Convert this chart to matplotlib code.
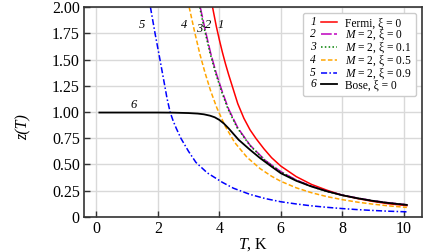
import numpy as np
import matplotlib
matplotlib.use('Agg')
import matplotlib.pyplot as plt
from matplotlib.legend_handler import HandlerLine2D
from matplotlib.text import Text

plt.rcParams['font.family'] = ['Liberation Serif', 'DejaVu Serif']
plt.rcParams['mathtext.fontset'] = 'custom'
plt.rcParams['mathtext.rm'] = 'Liberation Serif'
plt.rcParams['mathtext.it'] = 'Liberation Serif:italic'

# curve 1: Fermi, xi = 0
T1 = [3.78, 3.9, 4.0, 4.1, 4.2, 4.3, 4.45, 4.6, 4.8, 5.0, 5.2, 5.45, 5.7, 6.0, 6.5, 7.0, 7.5, 8.0, 8.5, 9.0, 9.5, 10.1]
z1 = [2.0, 1.82, 1.69, 1.57, 1.46, 1.36, 1.22, 1.08, 0.94, 0.83, 0.745, 0.65, 0.565, 0.485, 0.385, 0.31, 0.255, 0.207, 0.175, 0.148, 0.126, 0.108]
# curve 2: M = 2, xi = 0
T2 = [3.38, 3.55, 3.72, 3.9, 4.1, 4.3, 4.6, 5.0, 5.5, 6.0, 6.5, 7.0, 7.5, 8.0, 8.5, 9.0, 9.5, 10.1]
z2 = [2.0, 1.77, 1.56, 1.37, 1.19, 1.03, 0.85, 0.684, 0.538, 0.432, 0.353, 0.293, 0.246, 0.209, 0.18, 0.155, 0.136, 0.116]
# curve 3: M = 2, xi = 0.1
T3 = [3.36, 3.53, 3.7, 3.88, 4.08, 4.28, 4.58, 5.0, 5.5, 6.0, 6.5, 7.0, 7.5, 8.0, 8.5, 9.0, 9.5, 10.1]
z3 = [2.0, 1.77, 1.56, 1.37, 1.19, 1.03, 0.85, 0.68, 0.534, 0.428, 0.35, 0.29, 0.243, 0.207, 0.178, 0.153, 0.134, 0.115]
# curve 4: M = 2, xi = 0.5
T4 = [3.02, 3.2, 3.37, 3.54, 3.72, 3.92, 4.2, 4.5, 4.9, 5.33, 5.7, 6.0, 6.5, 7.0, 7.5, 8.0, 8.5, 9.0, 9.5, 10.1]
z4 = [2.0, 1.76, 1.55, 1.37, 1.2, 1.04, 0.86, 0.71, 0.569, 0.46, 0.388, 0.34, 0.278, 0.231, 0.194, 0.165, 0.141, 0.122, 0.106, 0.091]
# curve 5: M = 2, xi = 0.9
T5 = [1.76, 1.91, 2.07, 2.22, 2.3, 2.4, 2.5, 2.6, 2.75, 3.0, 3.24, 3.61, 4.1, 4.46, 5.0, 5.5, 6.0, 6.5, 7.0, 7.5, 8.0, 8.5, 9.0, 9.5, 10.1]
z5 = [2.0, 1.75, 1.5, 1.26, 1.13, 1.0, 0.915, 0.845, 0.75, 0.625, 0.52, 0.42, 0.33, 0.274, 0.215, 0.175, 0.145, 0.124, 0.106, 0.092, 0.08, 0.07, 0.062, 0.055, 0.049]
# curve 6: Bose, xi = 0
T6 = [0.1, 1.0, 2.0, 2.5, 3.0, 3.3, 3.5, 3.7, 3.85, 4.0, 4.15, 4.3, 4.45, 4.63, 5.0, 5.33, 5.7, 6.0, 6.5, 7.0, 7.5, 8.0, 8.5, 9.0, 9.5, 10.1]
z6 = [0.995, 0.995, 0.995, 0.994, 0.99, 0.985, 0.978, 0.965, 0.95, 0.925, 0.89, 0.845, 0.795, 0.735, 0.64, 0.56, 0.48, 0.417, 0.345, 0.29, 0.245, 0.207, 0.178, 0.153, 0.133, 0.115]

labels = ['Fermi, ξ = 0', '$M$ = 2, ξ = 0', '$M$ = 2, ξ = 0.1',
          '$M$ = 2, ξ = 0.5', '$M$ = 2, ξ = 0.9', 'Bose, ξ = 0']
nums = ['1', '2', '3', '4', '5', '6']
# where the curve numbers sit (T, z)
num_pos = [(4.03, 1.83), (3.65, 1.83), (3.35, 1.79), (2.87, 1.83), (1.48, 1.83), (1.2, 1.07)]

xticks = [0, 2, 4, 6, 8, 10]
yticks = [0, 0.25, 0.5, 0.75, 1.0, 1.25, 1.5, 1.75, 2.0]
ytick_labels = ['0', '0.25', '0.50', '0.75', '1.00', '1.25', '1.50', '1.75', '2.00']


class NumberedHandler(HandlerLine2D):
    # legend handle: italic number, then the line sample
    def __init__(self, num, numw=9.6, **kw):
        super().__init__(**kw)
        self.num = num
        self.numw = numw

    def create_artists(self, legend, orig_handle, xdescent, ydescent,
                       width, height, fontsize, trans):
        arts = super().create_artists(legend, orig_handle, xdescent - self.numw,
                                      ydescent, width - self.numw, height,
                                      fontsize, trans)
        t = Text(-xdescent + self.numw * 0.4, (height - ydescent) / 2, self.num,
                 ha='center', va='center', fontsize=fontsize,
                 fontstyle='italic', transform=trans)
        return list(arts) + [t]


fig = plt.figure(figsize=(4.48, 2.52), dpi=100)
ax = fig.add_axes([0.1875, 0.139, 0.755, 0.833])

lw = 1.1
l1, = ax.plot(T1, z1, color='#ff0000', lw=lw)
l2, = ax.plot(T2, z2, color='#bf00bf', lw=lw, dashes=(7, 1.5))
l3, = ax.plot(T3, z3, color='#008000', lw=lw, dashes=(1, 1.5))
l4, = ax.plot(T4, z4, color='#ffa500', lw=lw, dashes=(3, 1.5))
l5, = ax.plot(T5, z5, color='#0000ff', lw=lw, dashes=(4, 1.5, 1, 1.5))
l6, = ax.plot(T6, z6, color='black', lw=1.3)
lines = [l1, l2, l3, l4, l5, l6]

for n, (tx, ty) in zip(nums, num_pos):
    ax.text(tx, ty, n, fontsize=9, fontstyle='italic', ha='center', va='center')

ax.set_xlim(-0.4, 10.6)
ax.set_ylim(0, 2)
ax.set_xticks(xticks)
ax.set_yticks(yticks)
ax.set_yticklabels(ytick_labels)
ax.grid(True, color='#d9d9d9', lw=1.0)
ax.set_axisbelow(True)
ax.tick_params(direction='in', length=4, width=1, color='#333333', labelsize=11.5, pad=3)
for s in ax.spines.values():
    s.set_color('#333333')
    s.set_linewidth(1.2)

ax.set_xlabel('$T$, K', fontsize=11.5)
ax.xaxis.set_label_coords(0.5, -0.09)
ax.set_ylabel('z(T)', fontsize=11.5, fontstyle='italic')
ax.yaxis.set_label_coords(-0.155, 0.43)

leg = ax.legend(lines, labels, loc='upper right', fontsize=8.3,
                handlelength=2.55, handletextpad=0.69, labelspacing=-0.17,
                borderpad=0.4, framealpha=1, edgecolor='#cccccc',
                handler_map={ln: NumberedHandler(n) for ln, n in zip(lines, nums)})

fig.savefig('out.png', dpi=100)
